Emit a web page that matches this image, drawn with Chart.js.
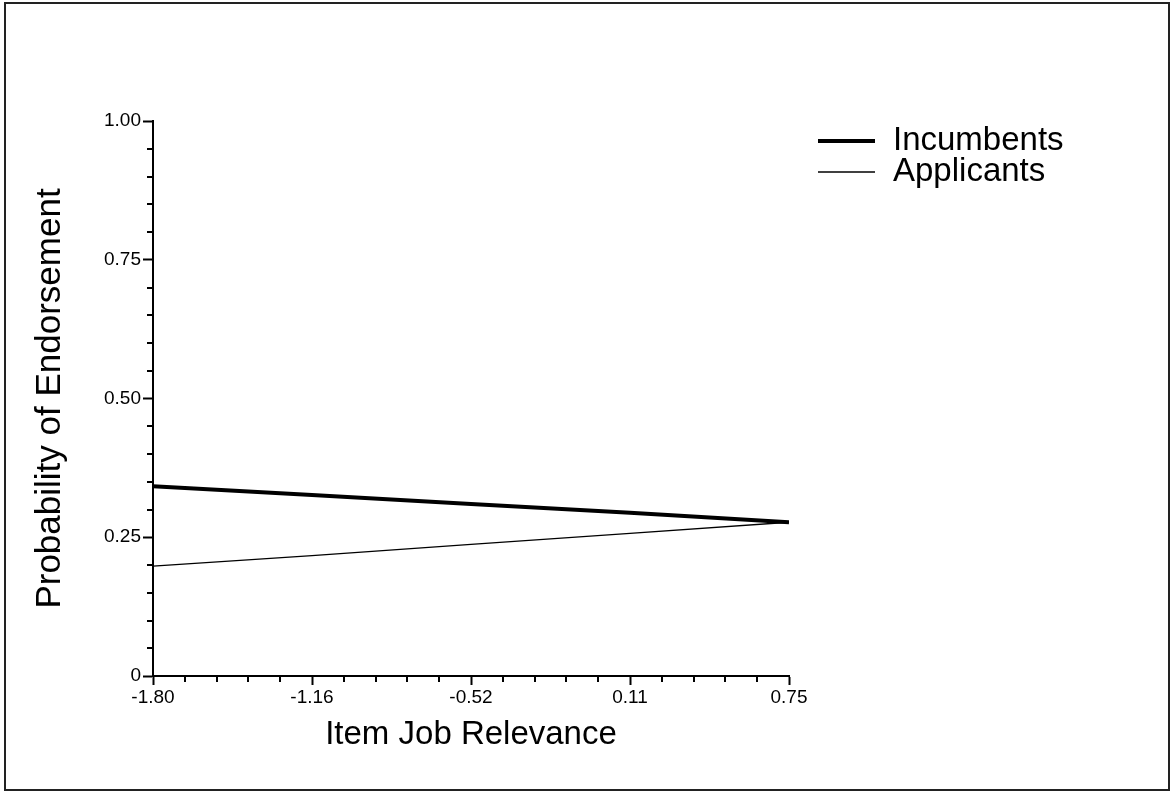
<!DOCTYPE html>
<html>
<head>
<meta charset="utf-8">
<script src="https://cdn.jsdelivr.net/npm/chart.js@4"></script>
<style>
  html, body { margin: 0; padding: 0; background: #fff; }
  #wrap { width: 1173px; height: 793px; }
</style>
</head>
<body>
<div id="wrap"><canvas id="lineChart" width="1173" height="793"></canvas></div>
<script>
// x axis (item job relevance)
const xTicks = [-1.80, -1.1625, -0.525, 0.1125, 0.75];
const xTickLabels = ['-1.80', '-1.16', '-0.52', '0.11', '0.75'];
// y axis (probability)
const yTicks = [0, 0.25, 0.5, 0.75, 1.0];
const yTickLabels = ['0', '0.25', '0.50', '0.75', '1.00'];

const seriesNames = ['Incumbents', 'Applicants'];
const incumbents = [0.342, 0.326, 0.310, 0.294, 0.277];
const applicants = [0.198, 0.217, 0.237, 0.257, 0.277];

const toPoints = vals => vals.map((v, i) => ({ x: xTicks[i], y: v }));

// minor ticks: 4 between each pair of major ticks
function minorsOf(majors) {
  const out = [];
  for (let i = 0; i < majors.length - 1; i++) {
    const step = (majors[i + 1] - majors[i]) / 5;
    for (let k = 1; k < 5; k++) out.push(majors[i] + step * k);
  }
  return out;
}

const framePlugin = {
  id: 'frame',
  beforeDraw(chart) {
    const c = chart.ctx;
    c.save();
    c.fillStyle = '#fff';
    c.fillRect(0, 0, chart.width, chart.height);
    c.strokeStyle = '#222';
    c.lineWidth = 2;
    c.strokeRect(5, 3, chart.width - 9, chart.height - 6);
    c.restore();
  },
  afterDraw(chart) {
    const c = chart.ctx;
    const xs = chart.scales.x, ys = chart.scales.y;
    c.save();
    c.strokeStyle = '#000';
    c.lineWidth = 2;
    // minor ticks
    minorsOf(xTicks).forEach(v => {
      const px = Math.round(xs.getPixelForValue(v));
      c.beginPath();
      c.moveTo(px, ys.bottom);
      c.lineTo(px, ys.bottom + 6);
      c.stroke();
    });
    minorsOf(yTicks).forEach(v => {
      const py = Math.round(ys.getPixelForValue(v));
      c.beginPath();
      c.moveTo(xs.left - 6, py);
      c.lineTo(xs.left + 1, py);
      c.stroke();
    });
    // legend
    const lx = xs.right + 29;
    let ly = ys.top + 20;
    c.font = '33px "Liberation Sans", Arial, sans-serif';
    c.textBaseline = 'middle';
    c.fillStyle = '#000';
    chart.data.datasets.forEach(ds => {
      c.lineWidth = ds.borderWidth;
      c.beginPath();
      c.moveTo(lx, ly);
      c.lineTo(lx + 57, ly);
      c.stroke();
      c.fillText(ds.label, lx + 75, ly);
      ly += 31;
    });
    c.restore();
  }
};

Chart.defaults.font.family = '"Liberation Sans", Arial, sans-serif';
Chart.defaults.color = '#000';

const ctx = document.getElementById('lineChart');

new Chart(ctx, {
  type: 'line',
  data: {
    datasets: [{
      label: seriesNames[0],
      data: toPoints(incumbents),
      borderColor: '#000',
      borderWidth: 4,
      pointRadius: 0,
      tension: 0,
      borderCapStyle: 'butt'
    }, {
      label: seriesNames[1],
      data: toPoints(applicants),
      borderColor: '#000',
      borderWidth: 1.3,
      pointRadius: 0,
      tension: 0
    }]
  },
  options: {
    responsive: false,
    animation: false,
    layout: {
      padding: { left: 0, top: 121, right: 384, bottom: 0 }
    },
    scales: {
      x: {
        type: 'linear',
        min: -1.80,
        max: 0.75,
        afterBuildTicks: scale => { scale.ticks = xTicks.map(v => ({ value: v })); },
        afterFit: scale => { scale.height = 117; },
        ticks: {
          autoSkip: false,
          maxRotation: 0,
          padding: 1,
          font: { size: 19 },
          callback: (val, i) => xTickLabels[i]
        },
        grid: {
          drawOnChartArea: false,
          drawTicks: true,
          tickLength: 9,
          tickWidth: 2,
          tickColor: '#000'
        },
        border: { display: true, color: '#000', width: 2 },
        title: {
          display: true,
          text: 'Item Job Relevance',
          font: { size: 33 },
          padding: { top: 0, bottom: 38 }
        }
      },
      y: {
        type: 'linear',
        min: 0,
        max: 1,
        afterBuildTicks: scale => { scale.ticks = yTicks.map(v => ({ value: v })); },
        afterFit: scale => { scale.width = 153; },
        ticks: {
          autoSkip: false,
          padding: 2,
          font: { size: 19 },
          callback: (val, i) => yTickLabels[i]
        },
        grid: {
          drawOnChartArea: false,
          drawTicks: true,
          tickLength: 10,
          tickWidth: 2,
          tickColor: '#000'
        },
        border: { display: true, color: '#000', width: 2 },
        title: {
          display: true,
          text: 'Probability of Endorsement',
          font: { size: 35 },
          padding: { top: 29, bottom: 0 }
        }
      }
    },
    plugins: {
      legend: { display: false },
      tooltip: { enabled: false }
    }
  },
  plugins: [framePlugin]
});
</script>
</body>
</html>
